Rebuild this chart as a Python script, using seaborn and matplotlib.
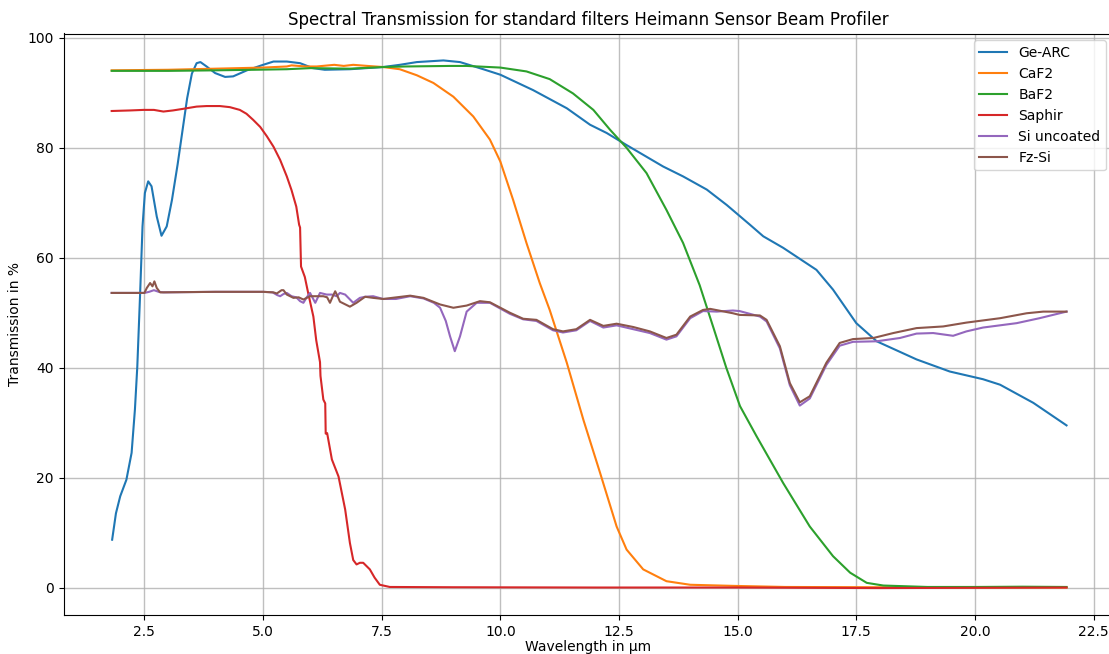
import matplotlib
matplotlib.use("Agg")
import matplotlib.pyplot as plt
import seaborn as sns
import pandas as pd

# ---------------- data ----------------
ge_x = [1.82, 1.90, 1.99, 2.12, 2.23, 2.30, 2.35, 2.41, 2.46, 2.51, 2.58, 2.65, 2.76, 2.86, 2.97,
        3.08, 3.20, 3.30, 3.40, 3.50, 3.60, 3.68, 3.81, 3.99, 4.20, 4.37, 4.66, 5.00, 5.22, 5.50,
        5.78, 6.05, 6.30, 6.83, 7.53, 7.88, 8.24, 8.80, 9.15, 9.64, 10.00, 10.69, 11.40, 11.89,
        12.24, 12.66, 13.43, 13.85, 14.35, 14.77, 15.26, 15.54, 15.96, 16.45, 16.66, 17.01, 17.50,
        17.93, 18.77, 19.47, 20.17, 20.53, 21.23, 21.93]
ge_y = [8.7, 13.5, 16.6, 19.6, 24.5, 32.4, 40.2, 53.6, 65.7, 71.8, 73.9, 73.0, 67.5, 64.0, 65.7,
        70.5, 77.0, 83.0, 89.0, 93.5, 95.4, 95.6, 94.8, 93.6, 92.9, 93.0, 94.1, 95.1, 95.7, 95.7,
        95.4, 94.5, 94.2, 94.3, 94.7, 95.1, 95.6, 95.9, 95.6, 94.3, 93.3, 90.5, 87.2, 84.2,
        82.7, 80.5, 76.6, 74.8, 72.4, 69.6, 66.0, 63.9, 61.8, 59.0, 57.8, 54.2, 48.1,
        44.8, 41.5, 39.3, 37.9, 36.9, 33.6, 29.5]

caf2_x = [1.81, 3.0, 4.0, 5.0, 5.5, 5.6, 5.9, 6.13, 6.5, 6.7, 6.9, 7.2, 7.53, 7.88, 8.24, 8.59,
          9.01, 9.43, 9.78, 10.0, 10.27, 10.55, 10.83, 11.04, 11.4, 11.75, 12.1, 12.45, 12.66,
          13.01, 13.5, 14.0, 14.9, 16.0, 18.0, 20.0, 21.93]
caf2_y = [94.1, 94.2, 94.4, 94.6, 94.8, 95.0, 94.8, 94.8, 95.1, 94.9, 95.1, 94.9, 94.7, 94.3, 93.2, 91.8,
          89.3, 85.7, 81.5, 77.5, 70.5, 62.7, 55.4, 50.5, 40.9, 30.5, 20.9, 11.1, 6.9,
          3.3, 1.15, 0.5, 0.3, 0.1, 0.05, 0.0, 0.0]

baf2_x = [1.81, 3.0, 4.0, 4.8, 5.5, 6.0, 6.83, 7.53, 8.0, 8.94, 9.29, 10.0, 10.55, 11.04, 11.53,
          11.96, 12.31, 12.66, 13.08, 13.5, 13.85, 14.2, 14.5, 14.76, 15.05, 15.4, 15.96, 16.52,
          17.01, 17.37, 17.72, 18.07, 19.0, 20.0, 21.0, 21.93]
baf2_y = [94.0, 94.0, 94.1, 94.2, 94.3, 94.5, 94.4, 94.7, 94.8, 94.9, 94.9, 94.6, 93.9, 92.5, 89.9,
          86.9, 83.3, 80.0, 75.4, 68.7, 62.7, 55.0, 47.0, 40.0, 33.0, 27.5, 19.0, 11.1,
          5.7, 2.7, 0.85, 0.36, 0.1, 0.1, 0.15, 0.1]

sap_x = [1.81, 2.2, 2.48, 2.7, 2.9, 3.1, 3.32, 3.6, 3.81, 4.09, 4.3, 4.51, 4.65, 4.79, 4.94, 5.08,
         5.22, 5.36, 5.5, 5.6, 5.7, 5.76, 5.78, 5.80, 5.88, 5.95, 6.06, 6.12, 6.2, 6.21, 6.27,
         6.31, 6.32, 6.35, 6.45, 6.59, 6.73, 6.83, 6.9, 6.97, 7.04, 7.11, 7.25, 7.35, 7.46, 7.67,
         9.0, 12.0, 15.0, 18.0, 21.93]
sap_y = [86.7, 86.8, 86.9, 86.9, 86.6, 86.8, 87.1, 87.5, 87.6, 87.6, 87.4, 86.9, 86.2, 85.1, 83.8, 82.1,
         80.2, 77.8, 74.8, 72.3, 69.3, 66.0, 65.5, 58.4, 56.5, 53.6, 49.3, 45.0, 41.0, 38.5, 34.2,
         33.5, 28.0, 28.1, 23.3, 20.2, 14.2, 8.1, 5.0, 4.2, 4.5, 4.5, 3.3, 1.8, 0.5, 0.1,
         0.05, 0.0, 0.0, -0.1, 0.0]

si_x = [1.81, 2.5, 2.6, 2.7, 2.8, 2.9, 4.0, 5.0, 5.2, 5.3, 5.36, 5.43, 5.5, 5.6, 5.7, 5.78, 5.85,
        5.92, 5.99, 6.1, 6.2, 6.34, 6.45, 6.55, 6.62, 6.73, 6.9, 7.04, 7.15, 7.32, 7.53, 7.8, 8.1,
        8.38, 8.6, 8.73, 8.85, 8.94, 9.04, 9.15, 9.29, 9.5, 9.78, 10.2, 10.48, 10.76, 11.11, 11.32,
        11.6, 11.89, 12.17, 12.45, 12.8, 13.15, 13.5, 13.71, 14.0, 14.27, 14.56, 14.9, 15.04,
        15.47, 15.61, 15.89, 16.1, 16.31, 16.52, 16.87, 17.15, 17.43, 17.93, 18.42, 18.77, 19.12,
        19.54, 19.82, 20.17, 20.88, 21.36, 21.93]
si_y = [53.6, 53.6, 53.8, 54.1, 53.8, 53.7, 53.8, 53.8, 53.7, 53.2, 53.0, 53.4, 53.6, 53.0, 52.8, 52.1, 51.8,
        52.8, 53.6, 51.8, 53.6, 53.3, 53.3, 53.0, 53.6, 53.3, 51.8, 52.7, 52.9, 53.0, 52.5, 52.5, 53.0,
        52.6, 51.8, 50.9, 48.5, 45.7, 43.0, 45.7, 50.2, 51.8, 51.8, 49.8, 48.8, 48.5, 46.8, 46.4,
        46.8, 48.5, 47.3, 47.7, 47.0, 46.3, 45.1, 45.7, 49.0, 50.3, 50.2, 50.4, 50.3,
        49.3, 48.4, 43.5, 36.8, 33.1, 34.4, 40.5, 44.0, 44.7, 44.8, 45.4, 46.2, 46.3,
        45.8, 46.6, 47.3, 48.1, 49.0, 50.2]

fz_x = [1.81, 2.5, 2.55, 2.62, 2.67, 2.71, 2.76, 2.83, 4.0, 5.0, 5.22, 5.29, 5.39, 5.43, 5.5, 5.64,
        5.75, 5.85, 5.99, 6.13, 6.27, 6.35, 6.41, 6.47, 6.52, 6.57, 6.62, 6.83, 6.97, 7.15, 7.32,
        7.53, 8.1, 8.38, 8.73, 9.01, 9.29, 9.57, 9.78, 10.2, 10.48, 10.76, 11.11, 11.32, 11.6, 11.89,
        12.17, 12.45, 12.8, 13.15, 13.5, 13.71, 14.0, 14.27, 14.42, 14.9, 15.04, 15.47, 15.61,
        15.89, 16.1, 16.31, 16.52, 16.87, 17.15, 17.43, 17.86, 18.28, 18.77, 19.33, 19.82, 20.53,
        21.09, 21.44, 21.93]
fz_y = [53.6, 53.6, 54.5, 55.4, 54.8, 55.7, 54.5, 53.7, 53.8, 53.8, 53.7, 53.5, 54.1, 54.1, 53.3, 52.7,
        52.8, 52.4, 53.0, 53.0, 53.0, 52.8, 51.8, 53.0, 53.9, 53.0, 52.0, 51.1, 51.8, 52.9, 52.7,
        52.5, 53.1, 52.7, 51.5, 50.9, 51.3, 52.1, 51.9, 50.0, 48.9, 48.7, 47.0, 46.6, 47.0, 48.7,
        47.6, 48.0, 47.4, 46.6, 45.4, 46.0, 49.3, 50.5, 50.7, 49.9, 49.6, 49.5, 48.7,
        43.9, 37.2, 33.7, 34.8, 40.9, 44.5, 45.2, 45.4, 46.3, 47.2, 47.5, 48.2, 49.0,
        49.9, 50.2, 50.2]

series_names = ["Ge-ARC", "CaF2", "BaF2", "Saphir", "Si uncoated", "Fz-Si"]
series_x = [ge_x, caf2_x, baf2_x, sap_x, si_x, fz_x]
series_y = [ge_y, caf2_y, baf2_y, sap_y, si_y, fz_y]

title = "Spectral Transmission for standard filters Heimann Sensor Beam Profiler"
xlabel = "Wavelength in \u00b5m"
ylabel = "Transmission in %"

# ---------------- plot ----------------
colors = sns.color_palette("tab10", 6)
fig = plt.figure(figsize=(11.09, 6.54), dpi=100)
ax = fig.add_axes([63.5 / 1109, 39 / 654, 1049.3 / 1109, 581.5 / 654])

for name, xs, ys, c in zip(series_names, series_x, series_y, colors):
    df = pd.DataFrame({"x": xs, "y": ys})
    sns.lineplot(data=df, x="x", y="y", ax=ax, color=c, label=name,
                 linewidth=1.5, estimator=None, sort=False)

ax.set_xlim(0.795, 22.905)
ax.set_ylim(-5.0, 100.8)
ax.grid(True, color="#b0b0b0", linewidth=1.0, alpha=0.8)
ax.set_axisbelow(True)
ax.set_title(title, fontsize=12)
ax.set_xlabel(xlabel, labelpad=1)
ax.set_ylabel(ylabel)
ax.legend(loc="upper right")

fig.savefig("out.png", dpi=100)
